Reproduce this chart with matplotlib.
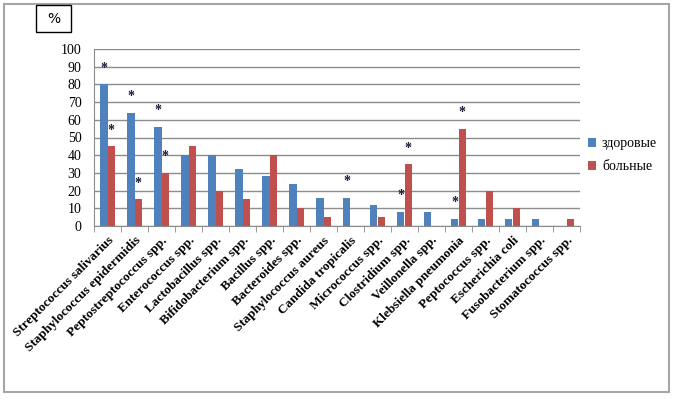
import matplotlib
matplotlib.use("Agg")
import matplotlib.pyplot as plt
import numpy as np
from matplotlib.patches import Rectangle

categories = ["Streptococcus salivarius", "Staphylococcus epidermidis", "Peptostreptococcus spp.",
              "Enterococcus spp.", "Lactobacillus spp.", "Bifidobacterium spp.", "Bacillus spp.",
              "Bacteroides spp.", "Staphylococcus aureus", "Candida tropicalis", "Micrococcus spp.",
              "Clostridium spp.", "Veillonella spp.", "Klebsiella pneumonia", "Peptococcus spp.",
              "Escherichia coli", "Fusobacterium spp.", "Stomatococcus spp."]
healthy = [80, 64, 56, 40, 40, 32, 28, 24, 16, 16, 12, 8, 8, 4, 4, 4, 4, 0]
sick = [45, 15, 30, 45, 20, 15, 40, 10, 5, 0, 5, 35, 0, 55, 20, 10, 0, 4]
star_healthy = [1, 1, 1, 0, 0, 0, 0, 0, 0, 1, 0, 1, 0, 1, 0, 0, 0, 0]
star_sick = [1, 1, 1, 0, 0, 0, 0, 0, 0, 0, 0, 1, 0, 1, 0, 0, 0, 0]
series_names = ["здоровые", "больные"]
yticks = list(range(0, 101, 10))

serif = ["Liberation Serif", "DejaVu Serif"]
plt.rcParams["font.family"] = serif

fig = plt.figure(figsize=(6.73, 4.0), dpi=100)
ax = fig.add_axes([94/673, 1-226/400, (580-94)/673, (226-49)/400])

x = np.arange(len(categories))
w = 0.28
c1, c2 = "#4F81BD", "#C0504D"
ax.bar(x - w/2, healthy, w, color=c1, label=series_names[0], zorder=3)
ax.bar(x + w/2, sick, w, color=c2, label=series_names[1], zorder=3)

for i in range(len(categories)):
    if star_healthy[i]:
        ax.text(x[i] - w/2, healthy[i] + 9, "*", ha="center", va="center", fontsize=10,
                fontweight="bold", color="#1a1a3a", zorder=4)
    if star_sick[i]:
        ax.text(x[i] + w/2, sick[i] + 9, "*", ha="center", va="center", fontsize=10,
                fontweight="bold", color="#1a1a3a", zorder=4)

ax.set_xlim(-0.5, len(categories) - 0.5)
ax.set_ylim(0, 100)
ax.set_yticks(yticks)
ax.set_yticklabels([str(t) for t in yticks], fontsize=10)
ax.yaxis.grid(True, color="#8c8c8c", lw=1, zorder=0)
ax.tick_params(axis="y", length=0, pad=9)
ax.set_xticks(x)
ax.set_xticklabels(categories, rotation=45, ha="right", rotation_mode="anchor",
                   fontsize=9.5, fontweight="bold")
ax.tick_params(axis="x", length=0, pad=6)
# category separator ticks
ax.set_xticks(np.arange(-0.5, len(categories)), minor=True)
ax.tick_params(axis="x", which="minor", length=4, color="#8c8c8c", direction="out")
for s in ["top", "right"]:
    ax.spines[s].set_visible(False)
ax.spines["left"].set_color("#8c8c8c")
ax.spines["bottom"].set_color("#8c8c8c")

leg = ax.legend(loc="center left", bbox_to_anchor=(1.0165, 0.40), frameon=False,
                prop={"family": serif, "size": 10}, handlelength=0.6, handleheight=0.6,
                handletextpad=0.4, labelspacing=0.75, borderaxespad=0, borderpad=0)

# outer border
fig.patches.append(Rectangle((4/673, 1-392/400), (669-4)/673, (392-4)/400,
                             transform=fig.transFigure, fill=False, ec="#a6a6a6", lw=1.5))
# % box
fig.patches.append(Rectangle((36/673, 1-32/400), 35/673, 27/400,
                             transform=fig.transFigure, fill=False, ec="black", lw=1))
fig.text(53.5/673, 1-19/400, "%", ha="center", va="center", fontsize=10,
         family=["DejaVu Sans"])

fig.savefig("out.png", dpi=100)
